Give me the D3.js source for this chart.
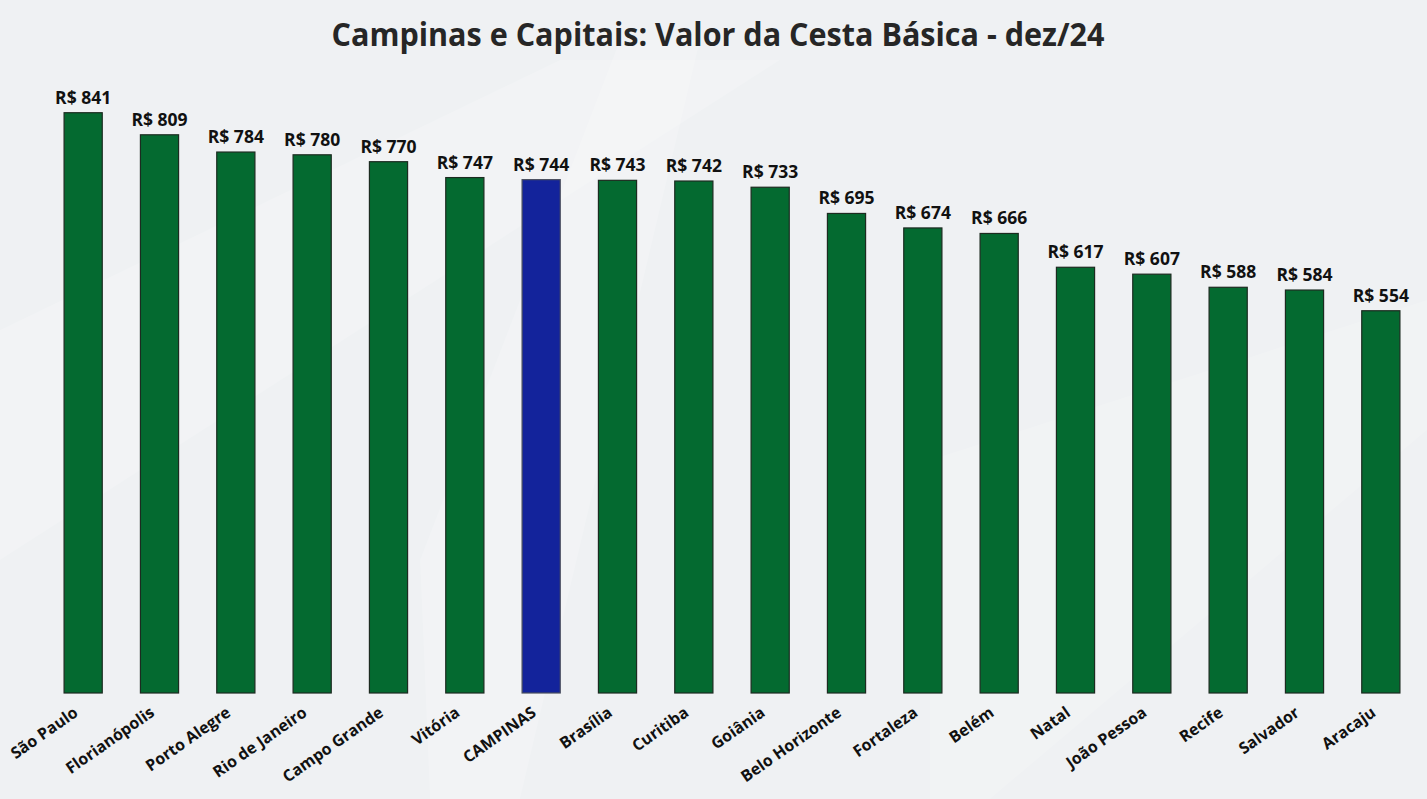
<!DOCTYPE html>
<html>
<head>
<meta charset="utf-8">
<script src="https://cdn.jsdelivr.net/npm/d3@7"></script>
<style>
  html, body { margin: 0; padding: 0; background: #eff1f3; }
  svg { display: block; }
</style>
</head>
<body>
<svg id="chart" width="1427" height="799"></svg>
<script>
const cities = ["São Paulo","Florianópolis","Porto Alegre","Rio de Janeiro","Campo Grande","Vitória","CAMPINAS","Brasília","Curitiba","Goiânia","Belo Horizonte","Fortaleza","Belém","Natal","João Pessoa","Recife","Salvador","Aracaju"];
const values = [841,809,784,780,770,747,744,743,742,733,695,674,666,617,607,588,584,554];
const highlight = ["CAMPINAS"];
const title = "Campinas e Capitais: Valor da Cesta Básica - dez/24";

const data = cities.map((c, i) => ({ city: c, value: values[i] }));

const W = 1427, H = 799;
const svg = d3.select("#chart");

// background with faint diagonal light shapes
svg.append("rect").attr("width", W).attr("height", H).attr("fill", "#eff1f3");
const bg = svg.append("g");
bg.append("path").attr("d", "M0,330 L560,60 L780,60 L0,560 Z").attr("fill", "#ffffff").attr("opacity", 0.18);
bg.append("path").attr("d", "M420,560 L620,40 L700,40 L520,799 L430,799 Z").attr("fill", "#ffffff").attr("opacity", 0.18);
bg.append("path").attr("d", "M930,460 L1427,300 L1427,430 L990,799 L930,799 Z").attr("fill", "#ffffff").attr("opacity", 0.15);

const x = d3.scaleBand().domain(cities).range([45, 1419]).paddingInner(0.5).paddingOuter(0.25);
const y = d3.scaleLinear().domain([0, 900]).range([693, 72]);

svg.append("text")
  .attr("x", 718).attr("y", 46)
  .attr("text-anchor", "middle")
  .attr("font-family", "'Open Sans', sans-serif")
  .attr("font-weight", "bold")
  .attr("font-size", 32)
  .attr("fill", "#262626")
  .attr("textLength", 773)
  .attr("lengthAdjust", "spacingAndGlyphs")
  .text(title);

svg.append("g").selectAll("rect").data(data).join("rect")
  .attr("x", d => x(d.city))
  .attr("y", d => y(d.value))
  .attr("width", x.bandwidth())
  .attr("height", d => y(0) - y(d.value))
  .attr("fill", d => highlight.includes(d.city) ? "#13239b" : "#046a30")
  .attr("stroke", d => highlight.includes(d.city) ? "#4a4f5e" : "#1c2b20")
  .attr("stroke-width", 1.2);

svg.append("g").selectAll("text").data(data).join("text")
  .attr("x", d => x(d.city) + x.bandwidth() / 2)
  .attr("y", d => y(d.value) - 9)
  .attr("text-anchor", "middle")
  .attr("font-family", "'Open Sans', sans-serif")
  .attr("font-weight", "bold")
  .attr("font-size", 17.5)
  .attr("fill", "#111")
  .text(d => "R$ " + d3.format("d")(d.value));

const xAxis = d3.axisBottom(x).tickSize(0).tickPadding(0);
const gx = svg.append("g").attr("transform", `translate(0,${y(0)})`).call(xAxis);
gx.select(".domain").remove();
gx.selectAll("text")
  .attr("font-family", "'Open Sans', sans-serif")
  .attr("font-weight", "bold")
  .attr("font-size", 16)
  .attr("fill", "#111")
  .attr("text-anchor", "end")
  .attr("dy", null)
  .attr("y", 0)
  .attr("x", 0)
  .attr("transform", "translate(-4,22) rotate(-35)");
</script>
</body>
</html>
